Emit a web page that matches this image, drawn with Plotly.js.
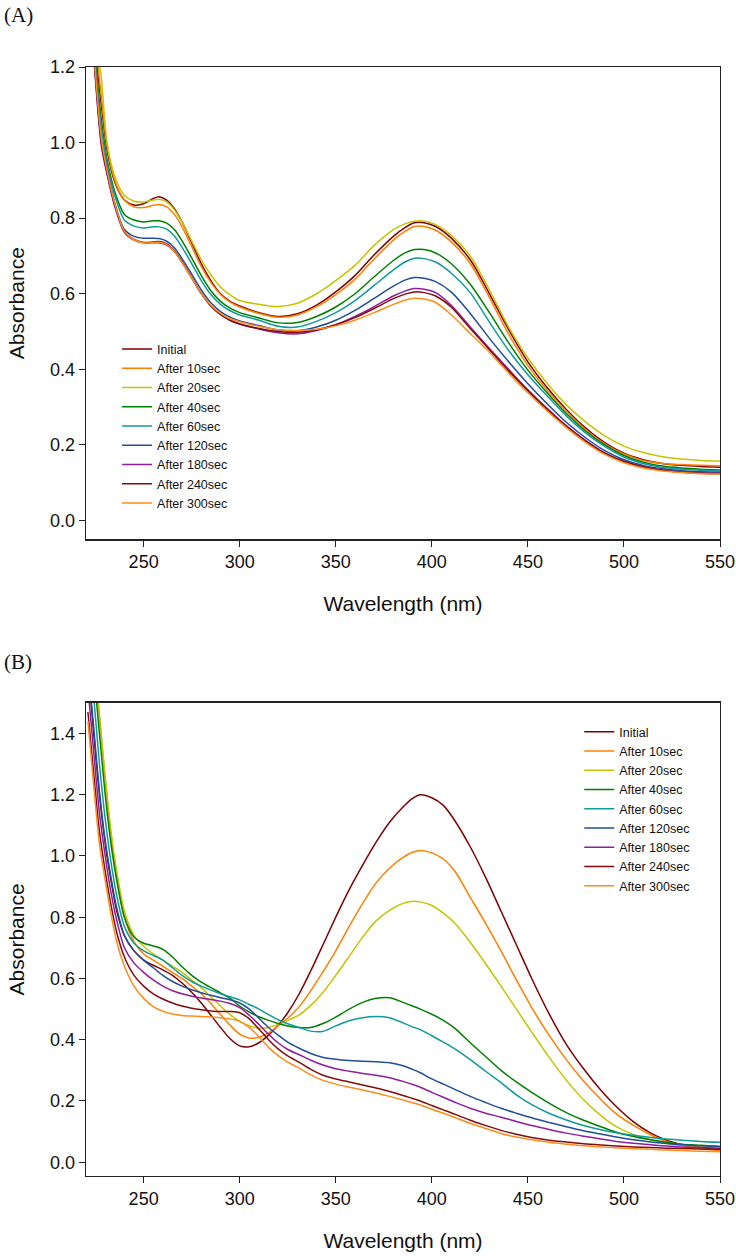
<!DOCTYPE html>
<html>
<head>
<meta charset="utf-8">
<script src="https://cdn.plot.ly/plotly-3.0.1.min.js"></script>
<style>
  html, body { margin: 0; padding: 0; background: #fff; }
  #chart { width: 736px; height: 1256px; }
</style>
</head>
<body>
<div id="chart"></div>
<script>
// Series names and line colours (shared by both panels)
const seriesNames = ["Initial", "After 10sec", "After 20sec", "After 40sec", "After 60sec",
                     "After 120sec", "After 180sec", "After 240sec", "After 300sec"];
const seriesColors = ["#7f0000", "#ff7f00", "#c4c400", "#008000", "#109a9a",
                      "#1f4e9a", "#8e1e9e", "#800d0d", "#ff8c1a"];

// Panel (A): wavelength grid (nm) and absorbance of each spectrum
const wavelengthA = [222, 225, 228, 231, 235, 240, 245, 250, 255, 258, 262, 266, 270, 275, 280, 285, 290, 295,
                     300, 310, 320, 330, 340, 350, 360, 370, 380, 386, 391, 396, 402, 410, 420, 430, 440, 450,
                     460, 470, 480, 490, 500, 510, 520, 530, 540, 550];
const absA_initial = [1.48, 1.25, 1.10, 0.98, 0.895, 0.848, 0.835, 0.838, 0.852, 0.857, 0.848, 0.825, 0.79, 0.735, 0.68, 0.635, 0.6, 0.58,
                      0.568, 0.55, 0.54, 0.547, 0.57, 0.605, 0.648, 0.703, 0.752, 0.775, 0.788, 0.788, 0.778, 0.748, 0.69, 0.6, 0.505, 0.42,
                      0.352, 0.294, 0.245, 0.206, 0.178, 0.161, 0.151, 0.146, 0.143, 0.141];
const absA_10s = [1.5, 1.27, 1.12, 0.99, 0.9, 0.848, 0.83, 0.828, 0.834, 0.836, 0.83, 0.81, 0.777, 0.725, 0.672, 0.63, 0.598, 0.578,
                  0.565, 0.548, 0.538, 0.544, 0.566, 0.598, 0.638, 0.692, 0.742, 0.765, 0.778, 0.778, 0.768, 0.738, 0.68, 0.59, 0.493, 0.41,
                  0.345, 0.289, 0.241, 0.203, 0.176, 0.159, 0.151, 0.148, 0.146, 0.145];
const absA_20s = [1.55, 1.30, 1.17, 1.0, 0.91, 0.86, 0.845, 0.843, 0.848, 0.85, 0.843, 0.822, 0.79, 0.74, 0.69, 0.65, 0.618, 0.597,
                  0.582, 0.572, 0.566, 0.575, 0.6, 0.635, 0.675, 0.728, 0.77, 0.785, 0.792, 0.792, 0.783, 0.755, 0.7, 0.61, 0.512, 0.43,
                  0.363, 0.306, 0.261, 0.224, 0.197, 0.18, 0.169, 0.163, 0.159, 0.157];
const absA_40s = [1.45, 1.22, 1.06, 0.955, 0.87, 0.81, 0.795, 0.79, 0.793, 0.793, 0.787, 0.77, 0.74, 0.695, 0.648, 0.608, 0.58, 0.562,
                  0.55, 0.536, 0.523, 0.524, 0.54, 0.565, 0.6, 0.645, 0.688, 0.708, 0.717, 0.717, 0.708, 0.68, 0.625, 0.55, 0.47, 0.398,
                  0.338, 0.283, 0.237, 0.2, 0.172, 0.154, 0.144, 0.139, 0.136, 0.134];
const absA_60s = [1.42, 1.2, 1.04, 0.945, 0.86, 0.795, 0.779, 0.774, 0.777, 0.777, 0.771, 0.753, 0.723, 0.68, 0.635, 0.598, 0.572, 0.555,
                  0.544, 0.53, 0.514, 0.512, 0.527, 0.55, 0.582, 0.622, 0.663, 0.684, 0.694, 0.693, 0.684, 0.655, 0.603, 0.525, 0.45, 0.386,
                  0.33, 0.277, 0.232, 0.196, 0.168, 0.151, 0.141, 0.136, 0.133, 0.131];
const absA_120s = [1.4, 1.18, 1.01, 0.93, 0.84, 0.77, 0.752, 0.747, 0.747, 0.746, 0.739, 0.722, 0.693, 0.652, 0.61, 0.576, 0.553, 0.538,
                   0.528, 0.516, 0.504, 0.502, 0.512, 0.53, 0.556, 0.588, 0.62, 0.636, 0.643, 0.641, 0.632, 0.605, 0.548, 0.482, 0.42, 0.362,
                   0.309, 0.26, 0.219, 0.185, 0.161, 0.146, 0.137, 0.132, 0.129, 0.128];
const absA_180s = [1.38, 1.16, 0.99, 0.915, 0.83, 0.762, 0.742, 0.735, 0.735, 0.735, 0.729, 0.712, 0.683, 0.642, 0.601, 0.568, 0.546, 0.53,
                   0.52, 0.507, 0.497, 0.494, 0.503, 0.518, 0.54, 0.566, 0.594, 0.607, 0.614, 0.612, 0.603, 0.57, 0.512, 0.455, 0.4, 0.346,
                   0.297, 0.251, 0.212, 0.179, 0.157, 0.143, 0.134, 0.129, 0.126, 0.125];
const absA_240s = [1.39, 1.17, 1.0, 0.92, 0.835, 0.765, 0.744, 0.736, 0.737, 0.738, 0.732, 0.714, 0.685, 0.643, 0.601, 0.567, 0.545, 0.53,
                   0.52, 0.508, 0.5, 0.498, 0.505, 0.518, 0.537, 0.561, 0.587, 0.599, 0.605, 0.603, 0.594, 0.565, 0.508, 0.452, 0.396, 0.343,
                   0.294, 0.249, 0.21, 0.178, 0.156, 0.142, 0.133, 0.128, 0.125, 0.124];
const absA_300s = [1.4, 1.18, 1.01, 0.925, 0.838, 0.765, 0.743, 0.735, 0.735, 0.736, 0.73, 0.712, 0.683, 0.642, 0.602, 0.57, 0.548, 0.534,
                   0.526, 0.514, 0.505, 0.503, 0.506, 0.515, 0.53, 0.55, 0.572, 0.583, 0.588, 0.586, 0.577, 0.545, 0.495, 0.445, 0.39, 0.338,
                   0.29, 0.246, 0.207, 0.175, 0.153, 0.139, 0.131, 0.127, 0.124, 0.123];

// Panel (B): wavelength grid (nm) and absorbance of each spectrum
const wavelengthB = [221, 224, 227, 230, 233, 236, 240, 245, 250, 255, 260, 265, 270, 275, 280, 285, 290, 295, 300, 305,
                     310, 315, 320, 325, 331, 337, 343, 350, 357, 364, 371, 378, 385, 390, 394, 400, 406, 412, 420, 428,
                     436, 444, 452, 461, 470, 479, 488, 496, 505, 514, 522, 530, 540, 550];
const absB_initial = [1.62, 1.4, 1.2, 1.04, 0.92, 0.82, 0.74, 0.69, 0.66, 0.643, 0.628, 0.61, 0.585, 0.555, 0.52, 0.48, 0.44, 0.403, 0.38, 0.377,
                      0.39, 0.415, 0.447, 0.488, 0.55, 0.625, 0.705, 0.8, 0.89, 0.97, 1.045, 1.11, 1.16, 1.188, 1.2, 1.19, 1.165, 1.115, 1.03, 0.93,
                      0.82, 0.71, 0.6, 0.485, 0.385, 0.305, 0.235, 0.182, 0.132, 0.095, 0.072, 0.058, 0.047, 0.04];
const absB_10s = [1.8, 1.65, 1.46, 1.25, 1.07, 0.93, 0.8, 0.72, 0.68, 0.66, 0.64, 0.62, 0.6, 0.575, 0.55, 0.518, 0.482, 0.447, 0.418, 0.405,
                  0.408, 0.422, 0.445, 0.47, 0.508, 0.56, 0.618, 0.69, 0.77, 0.845, 0.912, 0.96, 0.995, 1.012, 1.018, 1.01, 0.99, 0.95, 0.865, 0.78,
                  0.69, 0.595, 0.505, 0.415, 0.335, 0.265, 0.205, 0.158, 0.12, 0.089, 0.068, 0.055, 0.045, 0.038];
const absB_20s = [1.8, 1.65, 1.45, 1.26, 1.08, 0.95, 0.82, 0.74, 0.705, 0.68, 0.66, 0.64, 0.62, 0.595, 0.57, 0.54, 0.51, 0.482, 0.46, 0.445,
                  0.438, 0.44, 0.45, 0.463, 0.481, 0.512, 0.552, 0.61, 0.672, 0.735, 0.788, 0.822, 0.845, 0.852, 0.85, 0.838, 0.813, 0.78, 0.718, 0.648,
                  0.575, 0.5, 0.425, 0.343, 0.268, 0.204, 0.152, 0.116, 0.09, 0.073, 0.062, 0.055, 0.05, 0.046];
const absB_40s = [1.75, 1.6, 1.4, 1.2, 1.04, 0.92, 0.8, 0.735, 0.715, 0.706, 0.695, 0.67, 0.638, 0.61, 0.588, 0.57, 0.553, 0.535, 0.51, 0.49,
                  0.475, 0.463, 0.453, 0.445, 0.44, 0.44, 0.452, 0.474, 0.5, 0.522, 0.535, 0.537, 0.522, 0.51, 0.5, 0.483, 0.463, 0.437, 0.39, 0.345,
                  0.3, 0.262, 0.228, 0.193, 0.162, 0.137, 0.116, 0.098, 0.084, 0.073, 0.065, 0.059, 0.055, 0.051];
const absB_60s = [1.7, 1.52, 1.3, 1.12, 0.98, 0.87, 0.77, 0.715, 0.69, 0.675, 0.66, 0.635, 0.61, 0.59, 0.575, 0.562, 0.55, 0.54, 0.53, 0.515,
                  0.5, 0.482, 0.465, 0.452, 0.44, 0.428, 0.427, 0.445, 0.462, 0.472, 0.476, 0.472, 0.455, 0.442, 0.433, 0.413, 0.392, 0.37, 0.335, 0.297,
                  0.26, 0.22, 0.188, 0.16, 0.138, 0.12, 0.106, 0.096, 0.088, 0.081, 0.076, 0.072, 0.068, 0.065];
const absB_120s = [1.62, 1.42, 1.21, 1.05, 0.93, 0.83, 0.74, 0.69, 0.66, 0.635, 0.61, 0.59, 0.575, 0.563, 0.553, 0.545, 0.537, 0.53, 0.52, 0.5,
                   0.47, 0.44, 0.415, 0.392, 0.372, 0.355, 0.343, 0.336, 0.332, 0.33, 0.328, 0.325, 0.315, 0.303, 0.292, 0.272, 0.255, 0.238, 0.215, 0.195,
                   0.176, 0.16, 0.145, 0.13, 0.116, 0.103, 0.092, 0.082, 0.073, 0.066, 0.061, 0.057, 0.054, 0.051];
const absB_180s = [1.55, 1.34, 1.14, 1.0, 0.88, 0.79, 0.7, 0.65, 0.62, 0.595, 0.575, 0.56, 0.55, 0.542, 0.536, 0.531, 0.526, 0.518, 0.505, 0.48,
                   0.45, 0.418, 0.39, 0.368, 0.351, 0.333, 0.318, 0.305, 0.297, 0.29, 0.284, 0.276, 0.264, 0.254, 0.245, 0.228, 0.212, 0.196, 0.176, 0.16,
                   0.147, 0.133, 0.12, 0.107, 0.095, 0.085, 0.076, 0.068, 0.062, 0.057, 0.053, 0.05, 0.048, 0.046];
const absB_240s = [1.47, 1.27, 1.08, 0.95, 0.84, 0.75, 0.67, 0.61, 0.575, 0.55, 0.533, 0.52, 0.51, 0.503, 0.498, 0.494, 0.492, 0.492, 0.488, 0.468,
                   0.435, 0.4, 0.37, 0.347, 0.326, 0.303, 0.285, 0.272, 0.262, 0.252, 0.242, 0.231, 0.218, 0.208, 0.2, 0.185, 0.171, 0.157, 0.137, 0.12,
                   0.104, 0.091, 0.081, 0.072, 0.066, 0.06, 0.056, 0.053, 0.05, 0.048, 0.046, 0.045, 0.043, 0.042];
const absB_300s = [1.44, 1.23, 1.04, 0.92, 0.81, 0.72, 0.64, 0.575, 0.535, 0.508, 0.493, 0.484, 0.479, 0.477, 0.476, 0.474, 0.472, 0.468, 0.46, 0.44,
                   0.41, 0.375, 0.348, 0.327, 0.307, 0.285, 0.268, 0.255, 0.245, 0.236, 0.226, 0.215, 0.203, 0.194, 0.187, 0.173, 0.16, 0.146, 0.127, 0.11,
                   0.094, 0.082, 0.073, 0.065, 0.059, 0.054, 0.05, 0.047, 0.044, 0.042, 0.04, 0.038, 0.036, 0.034];

// Axis ticks
const wavelengthTicks = [250, 300, 350, 400, 450, 500, 550];
const absTicksA = [0.0, 0.2, 0.4, 0.6, 0.8, 1.0, 1.2];
const absTicksB = [0.0, 0.2, 0.4, 0.6, 0.8, 1.0, 1.2, 1.4];

const seriesA = [absA_initial, absA_10s, absA_20s, absA_40s, absA_60s, absA_120s, absA_180s, absA_240s, absA_300s];
const seriesB = [absB_initial, absB_10s, absB_20s, absB_40s, absB_60s, absB_120s, absB_180s, absB_240s, absB_300s];

const traces = [];
seriesA.forEach((vals, i) => {
  traces.push({
    x: wavelengthA, y: vals, name: seriesNames[i], type: "scatter", mode: "lines",
    line: { color: seriesColors[i], width: 1.5, shape: "spline", smoothing: 0.8 },
    xaxis: "x", yaxis: "y", legend: "legend", hoverinfo: "skip"
  });
});
seriesB.forEach((vals, i) => {
  traces.push({
    x: wavelengthB, y: vals, name: seriesNames[i], type: "scatter", mode: "lines",
    line: { color: seriesColors[i], width: 1.5, shape: "spline", smoothing: 0.8 },
    xaxis: "x2", yaxis: "y2", legend: "legend2", hoverinfo: "skip"
  });
});

const tickFont = { family: "Arial, Liberation Sans, sans-serif", size: 18, color: "#111" };
const titleFont = { family: "Arial, Liberation Sans, sans-serif", size: 21, color: "#111" };

function xAxis(anchor) {
  return {
    anchor: anchor, domain: [0, 1], range: [220, 550],
    tickmode: "array", tickvals: wavelengthTicks,
    ticks: "outside", ticklen: 6, tickwidth: 1, tickcolor: "#222",
    showline: true, linecolor: "#222", linewidth: 1.3, mirror: true,
    showgrid: false, zeroline: false, tickfont: tickFont,
    title: { text: "Wavelength (nm)", font: titleFont, standoff: 25 },
    automargin: false
  };
}
function yAxis(anchor, domain, range, ticks) {
  return {
    anchor: anchor, domain: domain, range: range,
    tickmode: "array", tickvals: ticks, tickformat: ".1f",
    ticks: "outside", ticklen: 6, tickwidth: 1, tickcolor: "#222",
    showline: true, linecolor: "#222", linewidth: 1.3, mirror: true,
    showgrid: false, zeroline: false, tickfont: tickFont,
    title: { text: "Absorbance", font: titleFont, standoff: 19 },
    automargin: false
  };
}

const legendFont = { family: "Arial, Liberation Sans, sans-serif", size: 12.5, color: "#111" };

const layout = {
  width: 736, height: 1256,
  margin: { l: 86, r: 16, t: 67, b: 80 },
  paper_bgcolor: "#fff", plot_bgcolor: "#fff",
  showlegend: true,
  xaxis: xAxis("y"),
  yaxis: yAxis("x", [0.574, 1], [-0.05, 1.2], absTicksA),
  xaxis2: xAxis("y2"),
  yaxis2: yAxis("x2", [0, 0.4267], [-0.045, 1.5], absTicksB),
  legend: {
    x: 0.049, y: 0.7590, xanchor: "left", yanchor: "top",
    bgcolor: "rgba(0,0,0,0)", borderwidth: 0, font: legendFont, tracegroupgap: 0
  },
  legend2: {
    x: 0.778, y: 0.4138, xanchor: "left", yanchor: "top",
    bgcolor: "rgba(0,0,0,0)", borderwidth: 0, font: legendFont, tracegroupgap: 0
  },
  annotations: [
    { text: "(A)", xref: "paper", yref: "paper", x: -0.132, y: 1.0465, xanchor: "left", yanchor: "middle",
      showarrow: false, font: { family: "Liberation Serif, Times New Roman, serif", size: 21, color: "#111" } },
    { text: "(B)", xref: "paper", yref: "paper", x: -0.132, y: 0.4634, xanchor: "left", yanchor: "middle",
      showarrow: false, font: { family: "Liberation Serif, Times New Roman, serif", size: 21, color: "#111" } }
  ]
};

Plotly.newPlot("chart", traces, layout, { displayModeBar: false, staticPlot: true });
</script>
</body>
</html>
